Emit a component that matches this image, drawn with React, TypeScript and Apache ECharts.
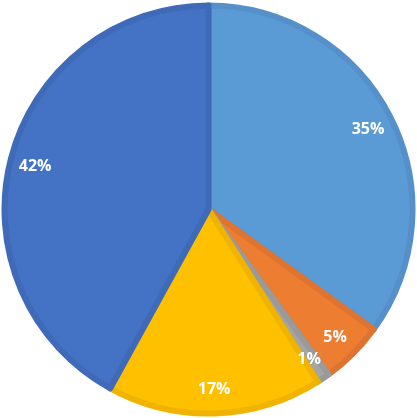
import React, { useEffect, useRef } from "react";
import * as echarts from "echarts";

const categories = ["A", "B", "C", "D", "E"];
const values = [35, 5, 1, 17, 42];
const fillColors = ["#5B9BD5", "#ED7D31", "#A5A5A5", "#FFC000", "#4472C4"];
const borderColors = ["#5590CA", "#DE7430", "#9A9A9A", "#F0B400", "#3F6AB8"];

export default function App() {
  const ref = useRef<HTMLDivElement>(null);
  useEffect(() => {
    const chart = echarts.init(ref.current!, null, { renderer: "svg" });
    const data = categories.map((c, i) => ({
      name: c,
      value: values[i],
      itemStyle: { color: fillColors[i], borderColor: borderColors[i] },
    }));
    chart.setOption({
      animation: false,
      series: [
        {
          type: "pie",
          center: [208.5, 209.5],
          radius: [0, 204],
          startAngle: 90,
          clockwise: true,
          silent: true,
          itemStyle: { borderWidth: 6 },
          label: { show: false },
          labelLine: { show: false },
          data,
        },
        {
          type: "pie",
          center: [208.5, 209.5],
          radius: [148, 204],
          startAngle: 90,
          clockwise: true,
          silent: true,
          itemStyle: { color: "transparent", borderWidth: 0 },
          label: {
            show: true,
            position: "inside",
            formatter: "{d}%",
            color: "#ffffff",
            fontFamily: "Open Sans",
            fontWeight: "bold",
            fontSize: 16,
          },
          labelLine: { show: false },
          data: categories.map((c, i) => ({ name: c, value: values[i] })),
        },
      ],
    });
    return () => chart.dispose();
  }, []);
  return (
    <div
      ref={ref}
      style={{ position: "fixed", left: 0, top: 0, width: 417, height: 418 }}
    />
  );
}
